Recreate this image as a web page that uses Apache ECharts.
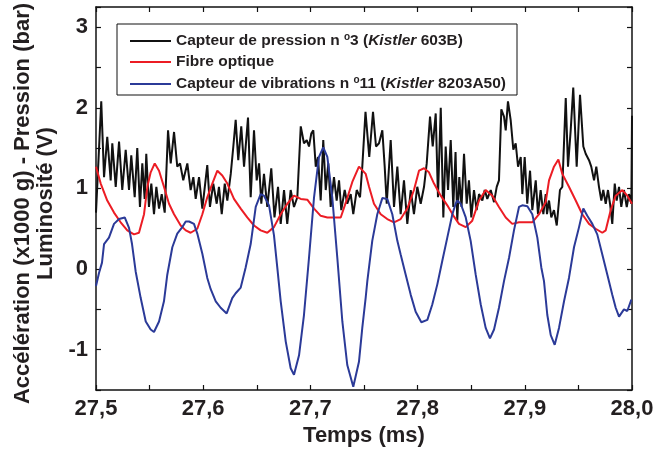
<!DOCTYPE html>
<html><head><meta charset="utf-8">
<script src="https://cdn.jsdelivr.net/npm/echarts@6/dist/echarts.min.js"></script>
<style>html,body{margin:0;padding:0;background:#fff}#c{width:655px;height:453px}</style>
</head><body><div id="c"></div>
<script>
const seriesNames = ['Capteur de pression n°3 (Kistler 603B)', 'Fibre optique', 'Capteur de vibrations n°11 (Kistler 8203A50)'];
const xTickValues = [27.5, 27.6, 27.7, 27.8, 27.9, 28.0];
const xTickLabels = ['27,5', '27,6', '27,7', '27,8', '27,9', '28,0'];
const yTickValues = [-1, 0, 1, 2, 3];
const yTickLabels = ['-1', '0', '1', '2', '3'];

const pressureT = [
27.5000,27.5049,27.5075,27.5105,27.5137,27.5152,27.5184,27.5215,27.5245,27.5277,
27.5308,27.5329,27.5361,27.5385,27.5410,27.5432,27.5454,27.5469,27.5494,27.5516,
27.5541,27.5563,27.5588,27.5613,27.5641,27.5672,27.5697,27.5728,27.5758,27.5784,
27.5814,27.5852,27.5883,27.5908,27.5930,27.5961,27.5992,27.6038,27.6063,27.6094,
27.6126,27.6147,27.6173,27.6201,27.6225,27.6257,27.6281,27.6303,27.6327,27.6355,
27.6381,27.6418,27.6443,27.6474,27.6499,27.6521,27.6542,27.6567,27.6598,27.6635,
27.6665,27.6698,27.6723,27.6754,27.6784,27.6816,27.6847,27.6878,27.6910,27.6940,
27.6966,27.6987,27.7008,27.7027,27.7050,27.7071,27.7096,27.7120,27.7143,27.7167,
27.7189,27.7220,27.7245,27.7267,27.7288,27.7320,27.7344,27.7376,27.7400,27.7432,
27.7463,27.7484,27.7514,27.7549,27.7584,27.7612,27.7640,27.7671,27.7693,27.7712,
27.7749,27.7780,27.7811,27.7842,27.7873,27.7904,27.7936,27.7966,27.7997,27.8029,
27.8060,27.8085,27.8116,27.8141,27.8169,27.8190,27.8216,27.8240,27.8262,27.8284,
27.8309,27.8333,27.8354,27.8370,27.8389,27.8410,27.8433,27.8458,27.8479,27.8501,
27.8526,27.8551,27.8573,27.8604,27.8626,27.8650,27.8682,27.8713,27.8738,27.8759,
27.8781,27.8806,27.8822,27.8843,27.8868,27.8893,27.8915,27.8937,27.8962,27.8977,
27.8999,27.9023,27.9049,27.9070,27.9102,27.9123,27.9148,27.9173,27.9195,27.9207,
27.9226,27.9247,27.9272,27.9298,27.9328,27.9350,27.9382,27.9403,27.9428,27.9452,
27.9484,27.9515,27.9546,27.9568,27.9599,27.9620,27.9646,27.9667,27.9692,27.9714,
27.9732,27.9755,27.9776,27.9795,27.9816,27.9839,27.9857,27.9879,27.9900,27.9925,
27.9951,27.9972,27.9994,28.0000];
const pressureV = [
0.70,2.08,1.14,1.64,1.10,1.56,1.02,1.58,0.98,1.48,
0.98,1.41,0.89,1.50,0.77,1.31,0.87,1.43,0.77,1.06,
0.68,1.02,0.75,0.93,0.70,1.72,1.31,1.70,1.27,1.31,
1.10,1.31,0.98,1.14,0.87,1.14,0.75,1.29,0.77,1.06,
0.81,1.02,0.68,1.06,0.85,1.18,1.52,1.85,1.35,1.77,
1.27,1.88,0.89,1.72,1.10,1.31,0.81,1.18,0.77,1.25,
0.64,1.02,0.56,0.98,0.56,0.98,0.77,0.89,1.77,1.56,
1.60,1.52,1.68,1.72,1.27,1.39,0.85,1.60,0.98,1.31,
0.77,1.14,0.85,1.10,0.73,0.98,0.81,0.93,0.68,0.98,
0.89,1.27,1.95,1.39,1.95,1.52,1.56,1.72,1.27,0.81,
1.60,0.77,1.27,0.68,1.10,0.56,0.98,0.68,1.02,0.81,
1.02,1.31,1.89,1.52,1.93,0.89,2.00,0.64,1.52,0.98,
1.60,0.77,1.45,0.60,1.14,0.77,1.43,0.81,1.10,0.64,
0.98,0.73,0.93,0.85,0.98,0.87,0.98,0.83,1.02,1.10,
1.98,1.89,1.72,2.08,1.85,1.48,1.56,1.27,1.39,0.93,
1.39,0.81,1.22,0.73,1.10,0.68,0.98,0.68,0.93,0.68,
0.85,0.64,0.73,0.54,0.98,1.02,2.12,1.27,1.72,2.25,
1.27,2.16,1.52,1.43,1.35,1.27,1.10,1.27,1.02,0.85,
0.98,0.81,0.98,0.81,0.56,1.06,0.85,1.02,0.77,0.98,
0.77,0.93,0.81,1.90];

const fiberT = [
27.5000,27.5044,27.5105,27.5168,27.5230,27.5292,27.5354,27.5401,27.5448,27.5479,
27.5510,27.5548,27.5588,27.5634,27.5681,27.5728,27.5790,27.5837,27.5883,27.5945,
27.5992,27.6038,27.6085,27.6132,27.6178,27.6225,27.6287,27.6350,27.6411,27.6474,
27.6536,27.6598,27.6660,27.6723,27.6785,27.6847,27.6910,27.6971,27.7034,27.7096,
27.7158,27.7220,27.7283,27.7329,27.7391,27.7453,27.7516,27.7547,27.7593,27.7656,
27.7717,27.7780,27.7842,27.7904,27.7966,27.8013,27.8060,27.8106,27.8153,27.8216,
27.8277,27.8340,27.8386,27.8449,27.8510,27.8573,27.8635,27.8697,27.8759,27.8822,
27.8883,27.8946,27.9008,27.9070,27.9133,27.9195,27.9226,27.9272,27.9313,27.9350,
27.9412,27.9475,27.9536,27.9599,27.9661,27.9723,27.9755,27.9801,27.9848,27.9910,
27.9956,28.0000];
const fiberV = [
1.27,1.06,0.85,0.70,0.58,0.48,0.43,0.45,0.68,1.02,
1.20,1.31,1.22,1.02,0.81,0.68,0.54,0.48,0.45,0.50,
0.68,0.89,1.06,1.22,1.16,1.06,0.87,0.75,0.64,0.54,
0.48,0.45,0.52,0.68,0.81,0.91,0.87,0.86,0.75,0.66,
0.64,0.64,0.64,0.82,1.08,1.27,1.18,1.02,0.81,0.68,
0.62,0.58,0.62,0.75,0.98,1.22,1.25,1.20,1.06,0.91,
0.79,0.65,0.56,0.52,0.60,0.85,0.98,0.91,0.77,0.64,
0.56,0.58,0.58,0.58,0.68,0.83,1.10,1.27,1.36,1.18,
1.02,0.85,0.68,0.56,0.50,0.45,0.48,0.73,0.91,0.98,
0.91,0.81];

const vibT = [
27.5000,27.5028,27.5056,27.5075,27.5121,27.5168,27.5215,27.5268,27.5308,27.5336,
27.5370,27.5417,27.5464,27.5510,27.5541,27.5588,27.5634,27.5665,27.5712,27.5758,
27.5805,27.5837,27.5868,27.5914,27.5945,27.5992,27.6038,27.6070,27.6117,27.6163,
27.6219,27.6271,27.6303,27.6350,27.6396,27.6443,27.6490,27.6536,27.6567,27.6614,
27.6660,27.6691,27.6723,27.6770,27.6816,27.6847,27.6894,27.6940,27.6987,27.7034,
27.7080,27.7120,27.7158,27.7204,27.7251,27.7298,27.7344,27.7400,27.7453,27.7484,
27.7516,27.7531,27.7577,27.7624,27.7671,27.7717,27.7764,27.7811,27.7842,27.7889,
27.7936,27.7982,27.8035,27.8091,27.8137,27.8184,27.8230,27.8277,27.8324,27.8355,
27.8370,27.8402,27.8449,27.8495,27.8542,27.8589,27.8635,27.8675,27.8713,27.8759,
27.8806,27.8853,27.8899,27.8946,27.8977,27.9024,27.9070,27.9117,27.9154,27.9179,
27.9210,27.9242,27.9279,27.9319,27.9366,27.9412,27.9459,27.9506,27.9546,27.9583,
27.9630,27.9676,27.9723,27.9770,27.9816,27.9848,27.9879,27.9925,27.9956,27.9994];
const vibV = [
-0.21,-0.05,0.08,0.31,0.39,0.56,0.62,0.64,0.51,0.31,
-0.03,-0.36,-0.65,-0.75,-0.78,-0.65,-0.40,-0.07,0.27,0.44,
0.52,0.59,0.59,0.56,0.44,0.19,-0.11,-0.25,-0.40,-0.48,
-0.55,-0.36,-0.30,-0.23,0.02,0.31,0.77,0.93,0.91,0.79,
0.42,0.02,-0.40,-0.90,-1.23,-1.31,-1.07,-0.57,0.14,0.89,
1.39,1.51,1.39,0.89,0.14,-0.65,-1.19,-1.46,-1.15,-0.73,
-0.35,-0.15,0.35,0.68,0.88,0.87,0.68,0.35,0.18,-0.07,
-0.32,-0.53,-0.66,-0.63,-0.44,-0.19,0.10,0.39,0.68,0.81,
0.85,0.81,0.64,0.35,-0.07,-0.44,-0.73,-0.86,-0.75,-0.48,
-0.15,0.14,0.48,0.77,0.79,0.78,0.68,0.39,0.02,-0.15,
-0.57,-0.82,-0.94,-0.73,-0.40,-0.11,0.27,0.52,0.75,0.66,
0.56,0.43,0.18,-0.07,-0.32,-0.48,-0.59,-0.50,-0.52,-0.38];

function zip(t, v) { const n = Math.min(t.length, v.length); const out = []; for (let i = 0; i < n; i++) out.push([t[i], v[i]]); return out; }
function pick(vals, labels, v) { const i = vals.findIndex(x => Math.abs(x - v) < 1e-6); return i >= 0 ? labels[i] : ''; }

const FONT = "'Liberation Sans', Arial, Helvetica, sans-serif";
const TXT = '#231f20';
const colors = ['#111111', '#ec1c24', '#2b3a98'];

const chart = echarts.init(document.getElementById('c'), null, { renderer: 'canvas' });

const axisLine = { show: true, onZero: false, lineStyle: { color: '#111', width: 1.5 } };
const tickStyle = { show: true, inside: true, length: 5, lineStyle: { color: '#111', width: 1.2 } };

chart.setOption({
  animation: false,
  backgroundColor: '#fff',
  textStyle: { fontFamily: FONT },
  grid: { left: 96, right: 23, top: 7, bottom: 63, containLabel: false, outerBoundsMode: 'none' },
  legend: {
    orient: 'vertical', left: 117, top: 24,
    padding: [8, 11, 3, 12],
    borderColor: '#111', borderWidth: 1, borderRadius: 0,
    itemWidth: 41, itemHeight: 14, itemGap: 5,
    itemStyle: { opacity: 0 },
    data: seriesNames,
    textStyle: {
      fontFamily: FONT, fontSize: 15.5, fontWeight: 'bold', color: TXT,
      rich: {
        t: { fontFamily: FONT, fontSize: 15.5, fontWeight: 'bold', color: TXT, lineHeight: 18 },
        i: { fontFamily: FONT, fontSize: 15.5, fontWeight: 'bold', fontStyle: 'italic', color: TXT, lineHeight: 18 },
        s: { fontFamily: FONT, fontSize: 10, fontWeight: 'bold', color: TXT, lineHeight: 8, verticalAlign: 'top' }
      }
    },
    formatter: function (name) {
      if (name === seriesNames[0]) return '{t|Capteur de pression n }{s|o}{t|3 (}{i|Kistler}{t| 603B)}';
      if (name === seriesNames[1]) return '{t|Fibre optique}';
      return '{t|Capteur de vibrations n }{s|o}{t|11 (}{i|Kistler}{t| 8203A50)}';
    }
  },
  xAxis: [{
    type: 'value', position: 'bottom', min: 27.5, max: 28.0, interval: 0.05,
    axisLine: axisLine, axisTick: tickStyle, splitLine: { show: false },
    axisLabel: {
      show: true, margin: 8, fontSize: 22, fontWeight: 'bold', color: TXT, fontFamily: FONT,
      showMinLabel: true, showMaxLabel: true,
      formatter: v => pick(xTickValues, xTickLabels, v)
    },
    name: 'Temps (ms)', nameLocation: 'middle', nameGap: 35,
    nameTextStyle: { fontSize: 22, fontWeight: 'bold', color: TXT, fontFamily: FONT }
  }, {
    type: 'value', position: 'top', min: 27.5, max: 28.0, interval: 0.05,
    axisLine: axisLine, axisTick: tickStyle, splitLine: { show: false },
    axisLabel: { show: false }
  }],
  yAxis: [{
    type: 'value', position: 'left', min: -1.5, max: 3.25, interval: 0.5,
    axisLine: axisLine, axisTick: tickStyle, splitLine: { show: false },
    axisLabel: {
      show: true, margin: 8, fontSize: 22, fontWeight: 'bold', color: TXT, fontFamily: FONT,
      formatter: v => pick(yTickValues, yTickLabels, v)
    },
    name: 'Accélération (x1000 g) - Pression (bar)\nLuminosité (V)',
    nameLocation: 'middle', nameRotate: 90, nameGap: 38,
    nameTextStyle: { fontSize: 22, fontWeight: 'bold', color: TXT, fontFamily: FONT, lineHeight: 23, align: 'center', padding: [0, 10, 0, 0] }
  }, {
    type: 'value', position: 'right', min: -1.5, max: 3.25, interval: 0.5,
    axisLine: axisLine, axisTick: tickStyle, splitLine: { show: false },
    axisLabel: { show: false }
  }],
  series: [
    { name: seriesNames[0], type: 'line', data: zip(pressureT, pressureV), symbol: 'none', showSymbol: false,
      lineStyle: { color: colors[0], width: 2 }, itemStyle: { color: colors[0] }, z: 2 },
    { name: seriesNames[1], type: 'line', data: zip(fiberT, fiberV), symbol: 'none', showSymbol: false,
      lineStyle: { color: colors[1], width: 2 }, itemStyle: { color: colors[1] }, z: 3 },
    { name: seriesNames[2], type: 'line', data: zip(vibT, vibV), symbol: 'none', showSymbol: false,
      lineStyle: { color: colors[2], width: 2 }, itemStyle: { color: colors[2] }, z: 4 }
  ]
});
</script>
</body></html>
